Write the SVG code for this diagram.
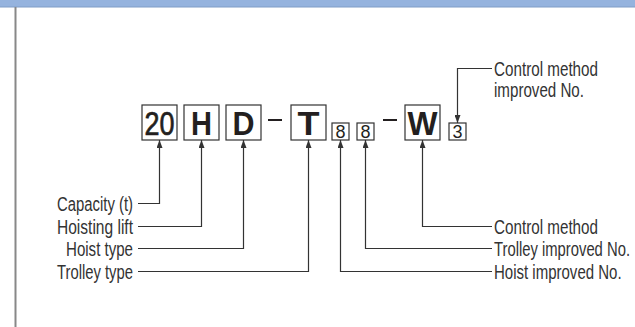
<svg xmlns="http://www.w3.org/2000/svg" width="635" height="327" viewBox="0 0 635 327">
<style>
.box{fill:#fff;stroke:#333;stroke-width:1.2}
.big{font-family:"Liberation Sans",Arial,sans-serif;font-size:34px;fill:#231f20;text-anchor:middle}
.b{font-weight:bold}
.med{stroke:#231f20;stroke-width:0.7}
.sm{font-family:"Liberation Sans",Arial,sans-serif;font-size:18px;fill:#231f20;text-anchor:middle}
.lbl{font-family:"Liberation Sans",Arial,sans-serif;font-size:19.5px;fill:#333}
.r{text-anchor:end}
.con{fill:none;stroke:#333;stroke-width:1.2}
</style>
<defs>
<marker id="ah" viewBox="0 0 8 6" refX="8" refY="3" markerWidth="8" markerHeight="6" markerUnits="userSpaceOnUse" orient="auto">
<path d="M0,0 L8,3 L0,6 z" fill="#333"/>
</marker>
</defs>
<rect x="0" y="0" width="635" height="327" fill="#fff"/>
<rect x="0" y="0" width="635" height="7" fill="#95b3de"/>
<line x1="0" y1="7" x2="635" y2="7" stroke="#7f9cc6" stroke-width="1"/>
<line x1="15.5" y1="7" x2="15.5" y2="327" stroke="#888" stroke-width="2"/>

<g id="capacity">
<rect class="box" x="142" y="105" width="35" height="35"/>
<text class="big med" x="159.5" y="134.5" textLength="30" lengthAdjust="spacingAndGlyphs">20</text>
</g>
<g id="hoisting-lift">
<rect class="box" x="184" y="105" width="35" height="35"/>
<text class="big b" x="201.5" y="134.5" textLength="21" lengthAdjust="spacingAndGlyphs">H</text>
</g>
<g id="hoist-type">
<rect class="box" x="226" y="105" width="35" height="35"/>
<text class="big b" x="243.5" y="134.5" textLength="22" lengthAdjust="spacingAndGlyphs">D</text>
</g>
<g id="dash1"><line x1="268" y1="120" x2="282" y2="120" stroke="#231f20" stroke-width="2"/></g>
<g id="trolley-type">
<rect class="box" x="291" y="105" width="35" height="35"/>
<text class="big b" x="308.5" y="134.5" textLength="22" lengthAdjust="spacingAndGlyphs">T</text>
</g>
<g id="hoist-improved">
<rect class="box" x="332" y="123" width="17" height="17"/>
<text class="sm" x="340.5" y="138">8</text>
</g>
<g id="trolley-improved">
<rect class="box" x="357" y="123" width="17" height="17"/>
<text class="sm" x="365.5" y="138">8</text>
</g>
<g id="dash2"><line x1="383" y1="120" x2="397" y2="120" stroke="#231f20" stroke-width="2"/></g>
<g id="control-method">
<rect class="box" x="405" y="105" width="35" height="35"/>
<text class="big b" x="422.5" y="134.5" textLength="30" lengthAdjust="spacingAndGlyphs">W</text>
</g>
<g id="control-improved">
<rect class="box" x="449" y="123" width="17" height="17"/>
<text class="sm" x="457.5" y="138">3</text>
</g>

<g id="connectors">
<path class="con" d="M138,203.5 H159.5 V140" marker-end="url(#ah)"/>
<path class="con" d="M138,226.5 H201.5 V140" marker-end="url(#ah)"/>
<path class="con" d="M138,248.5 H243.5 V140" marker-end="url(#ah)"/>
<path class="con" d="M138,271.5 H308.5 V140" marker-end="url(#ah)"/>
<path class="con" d="M492,226.5 H422.5 V140" marker-end="url(#ah)"/>
<path class="con" d="M492,248.5 H365.5 V140" marker-end="url(#ah)"/>
<path class="con" d="M492,271.5 H340.5 V140" marker-end="url(#ah)"/>
<path class="con" d="M492,68.5 H457.5 V123" marker-end="url(#ah)"/>
</g>

<g id="labels">
<text class="lbl r" x="133" y="210.5" textLength="76" lengthAdjust="spacingAndGlyphs">Capacity (t)</text>
<text class="lbl r" x="133" y="233.5" textLength="76" lengthAdjust="spacingAndGlyphs">Hoisting lift</text>
<text class="lbl r" x="133" y="255.5" textLength="67" lengthAdjust="spacingAndGlyphs">Hoist type</text>
<text class="lbl r" x="133" y="278.5" textLength="76" lengthAdjust="spacingAndGlyphs">Trolley type</text>
<text class="lbl" x="494" y="75.5" textLength="104" lengthAdjust="spacingAndGlyphs">Control method</text>
<text class="lbl" x="494" y="97" textLength="90" lengthAdjust="spacingAndGlyphs">improved No.</text>
<text class="lbl" x="494" y="233.5" textLength="104" lengthAdjust="spacingAndGlyphs">Control method</text>
<text class="lbl" transform="translate(494,255.5) scale(0.76,1)" x="0" y="0">Trolley improved No.</text>
<text class="lbl" transform="translate(494,278.5) scale(0.77,1)" x="0" y="0">Hoist improved No.</text>
</g>
</svg>
